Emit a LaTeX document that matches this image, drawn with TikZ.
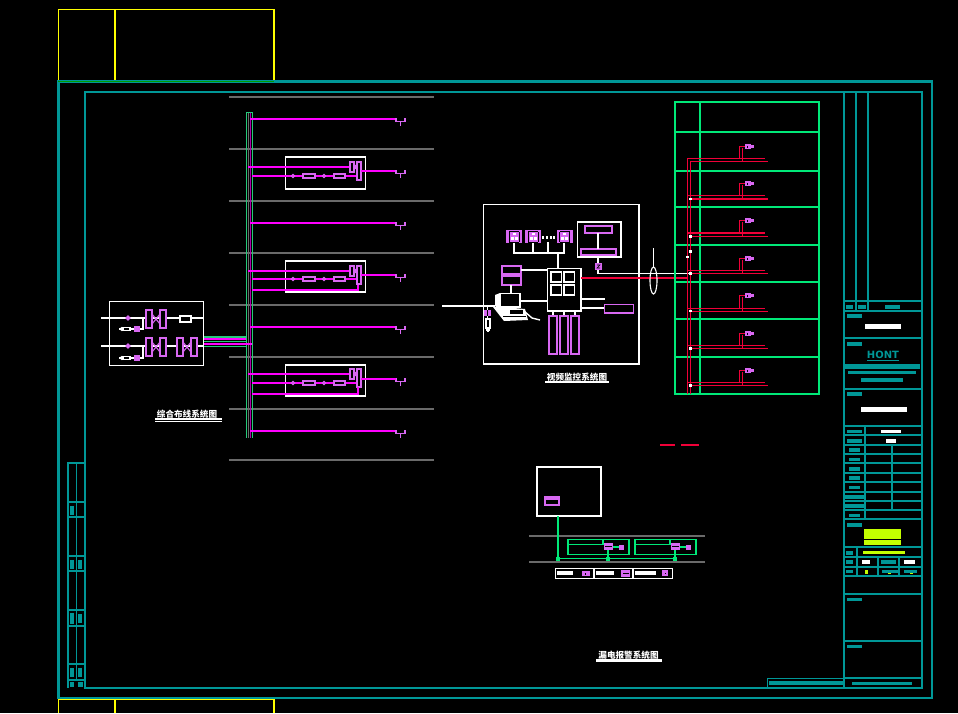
\documentclass[tikz,border=0pt]{standalone}
\usepackage{fontspec}
\setmainfont{DejaVu Sans}
\newfontfamily\cjkf{Noto Sans CJK SC}
\definecolor{tl}{HTML}{009797}
\definecolor{mg}{HTML}{FF00FF}
\definecolor{pu}{HTML}{D868F2}
\definecolor{gn}{HTML}{00E878}
\definecolor{yl}{HTML}{FFFF00}
\definecolor{yg}{HTML}{C4FF00}
\definecolor{rd}{HTML}{F00038}
\definecolor{gy}{HTML}{6A6A6A}
\tikzset{
 wl/.style={draw=white,line width=1.4pt},
 wt/.style={draw=white,line width=2pt},
 pl/.style={draw=pu,line width=1.3pt},
 ml/.style={draw=mg,line width=1.4pt},
 mt/.style={draw=mg,line width=2.4pt},
 gl/.style={draw=gn,line width=1.6pt},
 rl/.style={draw=rd,line width=1.6pt},
 rk/.style={draw=rd,line width=1.9pt},
 tlt/.style={draw=tl,line width=1.3pt},
 tlk/.style={draw=tl,line width=2.2pt},
 gb/.style={draw=gn!70!gray,line width=1.5pt},
 title/.style={text=white,font=\cjkf\bfseries\fontsize{8.6pt}{8.6pt}\selectfont,inner sep=0pt},
}
\newcommand{\sockt}[1]{%
 \draw[pl] (396,#1-1) -- (396,#1+2.5) -- (405,#1+2.5) -- (405,#1-1);
 \draw[pl] (400.5,#1+2.5) -- (400.5,#1+7);
}
\newcommand{\camx}[2]{%
 \fill[pu] (#1-8,#2-8) rectangle (#1+8,#2+5);
 \fill[black] (#1-5,#2-7.5) rectangle (#1+5,#2-6);
 \fill[black] (#1-5,#2+3.5) rectangle (#1+5,#2+5);
 \draw[black,line width=.7pt] (#1-5,#2-6) -- (#1-5,#2+3.5) (#1+5,#2-6) -- (#1+5,#2+3.5);
 \fill[white] (#1-1.5,#2-5.5) rectangle (#1+1.5,#2-3);
 \fill[white] (#1-3.5,#2-1) rectangle (#1-.5,#2+2);
 \fill[white] (#1+.5,#2-1) rectangle (#1+3.5,#2+2);
}
\begin{document}
\begin{tikzpicture}[x=1pt,y=-1pt]
\useasboundingbox (0,0) rectangle (958,713);
\fill[black] (0,0) rectangle (958,713);

% yellow sheet frames
\draw[yl,line width=1.4pt] (58.5,81) -- (58.5,9.5) -- (274,9.5) -- (274,81);
\draw[yl,line width=1.4pt] (115,9) -- (115,81);
\draw[yl,line width=1.4pt] (58.5,713) -- (58.5,699.5) -- (274,699.5) -- (274,713);
\draw[yl,line width=1.4pt] (115,699) -- (115,713);

% teal frames
\draw[tlk] (58.5,81.5) rectangle (932,698);
\draw[tlk] (85,92) rectangle (922,688);
\draw[tlk] (844,92) -- (844,688);
\draw[draw=green!60!black,line width=1.4pt] (58,81.5) -- (274,81.5);

% title block
\foreach \y in {301,454,463,473,482,492,501,510,547,557,567,594,641,678}
 \draw[tlt] (844,\y) -- (922,\y);
\foreach \y in {311,338,389,426,435,445,519,576}
 \draw[tlk] (844,\y) -- (922,\y);
\draw[tlt] (856,92) -- (856,311);
\draw[tlt] (868,92) -- (868,311);
\draw[tlt] (865,426) -- (865,519);
\draw[tlt] (892,445) -- (892,510);
\draw[tlt] (857,547) -- (857,576);
\draw[tlt] (878,557) -- (878,576);
\draw[tlt] (899,557) -- (899,576);
\draw[tlt] (767.5,688) -- (767.5,678.5) -- (844,678.5);
\foreach \a/\b/\c/\d in {846/305/853/309,858/305/866/309,885/305/900/309,847/314/862/318,847/342/862/346,
 845/364/920/369,848/371/916/374,861/378/903/382,847/392/862/396,847/430/862/433,847/439/862/443,
 849/448/860/452,849/458/860/461,849/467/860/471,849/476/860/480,849/486/860/489,
 845/495/864/499,845/504/864/508,849/514/860/517,847/523/862/527,846/551/853/555,846/560/853/564,
 881/560/896/564,846/570/853/573,882/570/900/573,904/570/917/573,847/598/862/601,847/645/862/648,
 769/681/843/685,852/682/912/685}
 \fill[tl] (\a,\b) rectangle (\c,\d);
\foreach \a/\b/\c/\d in {865/324/901/329,861/407/907/412,881/430/901/433,886/439/896/443,862/560/870/564,904/560/915/564}
 \fill[white] (\a,\b) rectangle (\c,\d);
\foreach \a/\b/\c/\d in {864/529/901/539,864/540/901/545,863/551/905/554,865/570/868/574,888/573/891/574,910/573/913/574}
 \fill[yg] (\a,\b) rectangle (\c,\d);
\node[text=tl,inner sep=0pt,font=\bfseries\fontsize{10pt}{10pt}\selectfont] (logo) at (883,355) {HONT};
\draw[tl,line width=1pt] (867,360) -- (899,360);

% left strip
\draw[tlk] (68,688) -- (68,463) -- (85,463);
\draw[tlt] (76.5,463) -- (76.5,680);
\foreach \y in {502,517,556,571,610,626,664,680} \draw[tlt] (68,\y) -- (85,\y);
\foreach \a/\b/\c/\d in {70/506/74/515,70/560/74/569,78/560/82/569,70/613/74/624,78/614/82/623,70/668/74/677,78/668/82/677,70/682/74/687,78/682/83/687}
 \fill[tl] (\a,\b) rectangle (\c,\d);

% ---------- structured cabling
\foreach \y in {97,149,201,253,305,357,409,460} \draw[gy,line width=1.3pt] (229,\y) -- (434,\y);
\draw[gb] (246.7,438) -- (246.7,112.7) -- (252.6,112.7) -- (252.6,438);
\draw[mg!70!black,line width=1pt] (250,113) -- (250,438);
\draw[gy,line width=.6pt] (248.4,113) -- (248.4,438);
% plain branches
\foreach \y in {119,223,327}{
 \draw[ml] (250,\y) -- (396,\y);
 \draw[mt] (360,\y) -- (396,\y);
 \sockt{\y}
}
\draw[mt] (250,431) -- (396,431);
\sockt{431}
% boxes
\foreach \t/\b/\o/\l/\m in {157/189/171/167/176, 261/292/275/271/279, 365/396/379/374/383}{
 \draw[wl] (285.5,\t) rectangle (365.5,\b);
 \draw[mt] (248,\l) -- (350,\l);
 \draw[mg,line width=1.8pt] (252,\m) -- (357,\m);
 \draw[pl] (350,\l-5) rectangle (354,\l+5);
 \draw[pl] (354,\l-3) -- (357,\l+3) (354,\l+3) -- (357,\l-3);
 \draw[pl] (357,\l-5) rectangle (361,\l+13);
 \draw[ml] (361,\o) -- (396,\o);
 \sockt{\o}
 \foreach \x in {293,324} \draw[draw=pu,line width=1pt,fill=mg] (\x,\m) circle (1.6);
 \foreach \x/\w in {303/315,334/345} \draw[draw=pu,line width=1.2pt,fill=black] (\x,\m-2) rectangle (\w,\m+2);
}
\draw[mg,line width=1.8pt] (252,290) -- (358,290) -- (358,285);
\draw[mg,line width=1.8pt] (252,394) -- (358,394) -- (358,387);
\draw[mt] (361,379) -- (396,379);
% source box
\draw[wl] (109.5,301.5) rectangle (203.5,365.5);
\draw[wl] (101,318) -- (203.5,318);
\draw[wl] (101,346) -- (203.5,346);
\foreach \x/\w/\u/\v/\p/\q in {146/152/160/166/310/328,146/152/160/166/338/356,177/183/191/197/338/356}{
 \draw[draw=pu,fill=black,line width=2.2pt] (\x,\p) rectangle (\w,\q);
 \draw[draw=pu,fill=black,line width=2.2pt] (\u,\p) rectangle (\v,\q);
 \draw[pu,line width=1.1pt] (\w,\p+4) -- (\u,\q-4) (\w,\q-4) -- (\u,\p+4);
}
\draw[wt,fill=black] (179.5,315.5) rectangle (190.5,322);
\foreach \y in {318,346} \fill[pu] (128,\y-2.8) -- (130.8,\y) -- (128,\y+2.8) -- (125.2,\y) -- cycle;
\foreach \y in {329,358}{
 \draw[wt] (143,\y-11) -- (143,\y) -- (139,\y);
 \fill[pu] (134,\y-3.2) rectangle (140,\y+3.2);
 \draw[wl] (119,\y) -- (134,\y);
 \draw[wl,fill=black] (123,\y-1.7) rectangle (130,\y+1.7);
 \fill[white] (119,\y) -- (122,\y-2.2) -- (122,\y+2.2) -- cycle;
}
\draw[gb] (204,337) -- (246,337);
\draw[mg,line width=1.6pt] (204,339) -- (246,339);
\draw[gb] (204,341.5) -- (246,341.5);
\draw[mg,line width=1.6pt] (204,344) -- (252,344);
\draw[gb] (204,346.5) -- (246,346.5);
\node[title] (t1) at (187,414) {综合布线系统图};
\draw[white,line width=1.2pt] (155,419) -- (222,419);
\draw[white,line width=1.2pt] (155,421.7) -- (222,421.7);

% ---------- CCTV
\draw[wl] (483.5,204.5) rectangle (639,364);
\camx{514}{238}
\camx{533}{238}
\camx{564.5}{238}
\foreach \x in {543,547,551,554} \fill[white] (\x-1.4,236) rectangle (\x+1.4,238.5);
\draw[wt] (514,243) -- (514,253) -- (564,253) -- (564,243);
\draw[wl] (533,243) -- (533,253);
\draw[wt] (548,242) -- (548,253);
\draw[wt] (558,253) -- (558,268);
\draw[wl] (547.5,268.5) rectangle (581,311);
\foreach \x/\y in {551/272,564/272,551/285,564/285} \draw[wl] (\x,\y) rectangle (\x+10.5,\y+10);
\draw[wl] (577.5,222) rectangle (621,257);
\draw[pl] (585,226) rectangle (612,233);
\draw[pl] (581,249) rectangle (616,255);
\draw[wl] (598,233) -- (598,249);
\draw[wl] (598,257) -- (598,263);
\fill[pu] (595,263) rectangle (602,270);
\draw[black,line width=.6pt] (597,265) -- (600,265) -- (597,268) -- (600,268);
\draw[wl] (598,270) -- (598,273.5) -- (690,273.5);
\draw[rl] (581,278) -- (687,278);
\draw[pl] (502,266) rectangle (521,274);
\draw[pl] (502,276) rectangle (521,285);
\draw[wl] (521,270) -- (547,270);
\draw[wt] (511,285) -- (511,293);
% computer
\fill[white] (495,295) -- (500,293) -- (500,310) -- (495,306) -- cycle;
\draw[wl,fill=black] (500.5,293.5) rectangle (520,307);
\fill[white] (493,307) -- (503,307) -- (525,309) -- (528,320) -- (504,321) -- cycle;
\fill[black] (510,310) rectangle (523,314);
\draw[black,line width=.6pt] (503,316.5) -- (526,316.5);
\draw[white,line width=1.4pt] (524,311) -- (532,318) -- (540,320);
\draw[wt] (520,301) -- (547,301);
\draw[wl,line width=1.6pt] (442,306) -- (495,306);
\fill[pu] (484,310) rectangle (491,316);
\draw[black,line width=.5pt] (487.5,310) -- (487.5,316);
\draw[wl] (487.5,306) -- (487.5,310) (487.5,316) -- (487.5,319);
\draw[wl,fill=black] (486,319) rectangle (490,328);
\draw[wl] (488,328) -- (488,332) (486,330) -- (490,330);
% right outputs
\draw[wt] (581,299) -- (605,299);
\draw[wl] (581,308) -- (604,308);
\draw[pl] (604.5,304.5) rectangle (633.5,313);
\foreach \x in {553,564,575} \draw[wl] (\x,311) -- (\x,316);
\foreach \x/\w in {549/557,560/568,571/579} \draw[pl] (\x,316) rectangle (\w,354);
\draw[white,line width=1.1pt] (653.5,280.5) ellipse (3.5 and 13.5);
\draw[white,line width=1.1pt] (653.5,248) -- (653.5,267);
\node[title] (t2) at (577,377) {视频监控系统图};
\draw[white,line width=2pt] (545,382) -- (609,382);

% ---------- riser
\draw[gl] (675,102) rectangle (819,394);
\draw[gl] (700,102) -- (700,394);
\foreach \y in {132,207,245,282,319,357} \draw[gl] (675,\y) -- (819,\y);
\draw[gl,line width=2pt] (675,170.5) -- (819,170.5);
\draw[rl] (687.5,394) -- (687.5,158.5);
\draw[rk] (690.5,394) -- (690.5,161.5);
\foreach \a/\b/\c in {158.5/161.5/146.5,195.5/199/183.5,233/236.5/220.5,270.5/273.5/258.5,308.5/311.5/295.5,345.5/348.5/333.5,382.5/385.5/370.5}{
 \draw[rl] (687,\a) -- (765,\a);
 \draw[rk] (690,\b) -- (768,\b);
 \draw[rl] (739.5,\a) -- (739.5,\c) -- (745,\c);
 \draw[rl] (742.5,\b) -- (742.5,\c+1);
 \fill[pu] (745,\c-2.5) rectangle (751,\c+2.5);
 \fill[pu] (751,\c-1.5) rectangle (754,\c+1);
 \fill[black] (746.5,\c-1) rectangle (748,\c+1);
}
\foreach \x/\y in {690.5/199,690.5/236.5,690.5/251.5,687.5/257,690.5/273.5,690.5/311,690.5/348.5,690.5/385.5}
 \fill[white] (\x-1.6,\y-1.4) rectangle (\x+1.6,\y+1.4);

% ---------- leakage alarm
\draw[rd,line width=1.2pt] (660,445) -- (675,445);
\draw[rd,line width=1.2pt] (681,445) -- (699,445);
\draw[white,line width=2.4pt] (537,467) rectangle (601,516);
\fill[pu] (544,496) rectangle (560,506);
\fill[black] (545.5,500) rectangle (558,504);
\draw[gy,line width=2pt] (529,535.5) -- (705,535.5);
\draw[gy,line width=2pt] (529,561.5) -- (705,561.5);
\draw[gl] (558,516) -- (558,559);
\foreach \x in {568,635}{
 \draw[gl] (\x,539.5) rectangle (\x+61,554.5);
 \draw[gl] (\x,544.5) -- (\x+35,544.5) -- (\x+35,539.5);
 \fill[pu] (\x+36,543) rectangle (\x+45,550);
 \draw[black,line width=.5pt] (\x+37,546) -- (\x+44,546);
 \draw[gl] (\x+45,547) -- (\x+51,547);
 \fill[pu] (\x+51,545) rectangle (\x+56,550);
 \draw[gl] (\x+40,550) -- (\x+40,558);
}
\draw[gl] (556,558.5) -- (677,558.5);
\foreach \x in {558,608,675} \fill[gn] (\x-2,556.5) rectangle (\x+2,560.5);
\draw[wl] (555.5,568.5) rectangle (672.5,578.5);
\draw[wl] (594,568.5) -- (594,578.5);
\draw[wl] (633,568.5) -- (633,578.5);
\foreach \a/\c in {557/573,596/614,635/656} \fill[white] (\a,571) rectangle (\c,575);
\fill[pu] (582,571) rectangle (590,576);
\fill[pu] (621,570) rectangle (630,577);
\fill[pu] (662,570) rectangle (668,576);
\fill[black] (622.5,572.5) rectangle (628.5,573.3);
\fill[black] (585,573) rectangle (586,575);
\fill[black] (664.5,572.5) rectangle (665.5,574);
\node[title] (t3) at (628.5,655) {漏电报警系统图};
\draw[white,line width=2.4pt] (596,660.5) -- (662,660.5);
\end{tikzpicture}
\end{document}
